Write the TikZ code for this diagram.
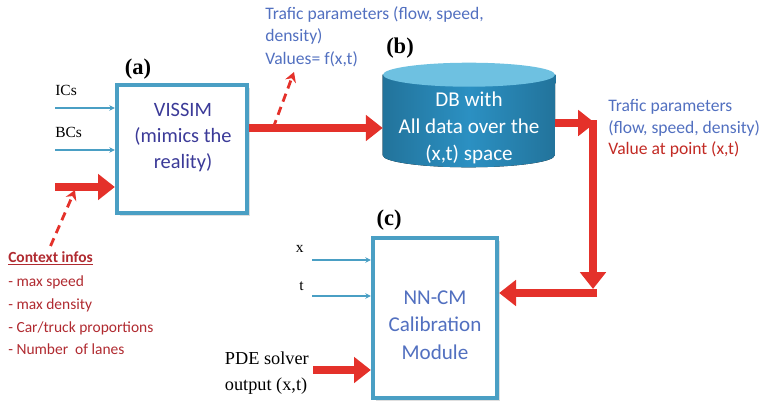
\documentclass[tikz,border=0pt]{standalone}
\usepackage{fontspec}
\setmainfont{Carlito}
\newfontfamily\labelfont{Liberation Serif}
\usetikzlibrary{arrows.meta, positioning, calc, shadows}
\definecolor{boxteal}{HTML}{4A9FC4}
\definecolor{flowred}{HTML}{E4312A}
\definecolor{ctxred}{HTML}{B02A30}
\definecolor{textblue}{HTML}{5270C0}
\definecolor{vissimblue}{HTML}{3B3A98}
\definecolor{dbtop}{HTML}{6EC1E1}
\definecolor{dbbody}{HTML}{2B90C2}

\tikzset{
  module/.style={draw=boxteal, line width=3pt, fill=white,
    drop shadow={opacity=0.25, shadow xshift=2pt, shadow yshift=-2pt}},
  bigflow/.style={flowred, line width=5.5pt, -{Triangle[length=12pt,width=18pt]}},
  hint/.style={flowred, line width=2pt, dash pattern=on 6pt off 4pt, -{Stealth[length=7pt,width=8pt]}},
  feed/.style={boxteal, line width=1.5pt, -{Stealth[length=4pt,width=4pt]}},
  tag/.style={font=\labelfont\bfseries\fontsize{16}{18}\selectfont, inner sep=0pt},
  inlabel/.style={font=\labelfont\fontsize{11}{13}\selectfont, inner sep=0pt},
  note/.style={font=\fontsize{12.5}{16}\selectfont, align=left, inner sep=0pt},
  boxtext/.style={align=center, font=\fontsize{14.5}{18.5}\selectfont},
}

\begin{document}
\begin{tikzpicture}[x=0.025cm, y=-0.025cm]
  \useasboundingbox (0,0) rectangle (762,407);

  % (a) simulator
  \node[module, minimum width=3.25cm, minimum height=3.2cm] (vissim) at (182,149) {};
  \node[boxtext, text=vissimblue] (vissimtext) at (183,138) {VISSIM\\(mimics the\\reality)};
  \node[tag] (taga) at (138,69) {(a)};

  \node[inlabel, anchor=west] (ics) at (55,90) {ICs};
  \node[inlabel, anchor=west] (bcs) at (55,132) {BCs};
  \coordinate (icsin) at (55,108);
  \coordinate (bcsin) at (55,150);
  \coordinate (ctxin) at (55,187);
  \draw[feed] (icsin) -- (icsin -| vissim.west);
  \draw[feed] (bcsin) -- (bcsin -| vissim.west);
  \draw[bigflow] (ctxin) -- (ctxin -| vissim.west);

  % context infos
  \node[note, anchor=north west, text=ctxred, font=\fontsize{11}{16.3}\selectfont] (ctxtitle) at (8,251)
        {\textbf{\underline{Context infos}}};
  \node[note, text=ctxred, font=\fontsize{11}{16.3}\selectfont, below=7pt of ctxtitle.south west, anchor=north west] (ctxlist)
        {- max speed\\- max density\\- Car/truck proportions\\- Number\ \ of lanes};
  \coordinate (ctxtip) at (75,190);
  \draw[hint] ($(ctxtitle.north)+(0,-5)$) -- (ctxtip);

  % (b) data base
  \node[minimum width=4.3cm, minimum height=2cm, inner sep=0pt] (db) at (469,115) {};
  \fill[left color=dbbody!80!black, right color=dbbody!80!black, middle color=dbbody]
    (db.north west) -- (db.south west) arc[start angle=180, end angle=360, x radius=2.15cm, y radius=0.3cm]
    -- (db.north east) -- cycle;
  \fill[dbtop] (db.north) ellipse[x radius=2.15cm, y radius=0.3cm];
  \node[boxtext, text=white, font=\fontsize{15}{19}\selectfont] (dbtext) at (469,128)
        {DB with\\All data over the\\(x,t) space};
  \node[tag] (tagb) at (400,48) {(b)};

  \coordinate (feedy) at (0,128);
  \draw[bigflow] (vissim.east |- feedy) -- (db.west |- feedy);
  \coordinate (valtip) at (294,72);
  \draw[hint] ($(vissim.east |- feedy)+(24,0)$) -- (valtip);
  \node[note, anchor=north west, text=textblue] (simout) at (265,6)
        {Trafic parameters (flow, speed,\\density)\\Values= f(x,t)};

  % (c) calibration module
  \node[module, minimum width=3.1cm, minimum height=4cm] (nncm) at (435,318) {};
  \node[boxtext, text=textblue, font=\fontsize{15}{19.5}\selectfont] (nncmtext) at (435,325)
        {NN-CM\\Calibration\\Module};
  \node[tag] (tagc) at (389,220) {(c)};

  \node[inlabel, anchor=east] (xin) at (304,249) {x};
  \node[inlabel, anchor=east] (tin) at (304,286) {t};
  \coordinate (xfeed) at (312,260);
  \coordinate (tfeed) at (312,296);
  \draw[feed] (xfeed) -- (xfeed -| nncm.west);
  \draw[feed] (tfeed) -- (tfeed -| nncm.west);
  \node[inlabel, align=left, anchor=east, font=\labelfont\fontsize{13}{18}\selectfont] (pde) at (309,373)
        {PDE solver\\output (x,t)};
  \coordinate (pdein) at (313,370);
  \draw[bigflow] (pdein) -- (pdein -| nncm.west);

  % point values back to (c)
  \coordinate (turn) at (595,123);
  \coordinate (drop) at (593,289);
  \coordinate (back) at (597,293);
  \draw[bigflow] (db.east |- turn) -- (turn);
  \draw[bigflow, shorten <=-2pt] (turn -| drop) -- (drop);
  \draw[bigflow] (back) -- (back -| nncm.east);
  \node[note, anchor=north west, text=textblue] (ptout) at (608,99)
        {Trafic parameters\\(flow, speed, density)};
  \node[note, text=flowred!85!black, below=3pt of ptout.south west, anchor=north west] (ptval)
        {Value at point (x,t)};
\end{tikzpicture}
\end{document}
